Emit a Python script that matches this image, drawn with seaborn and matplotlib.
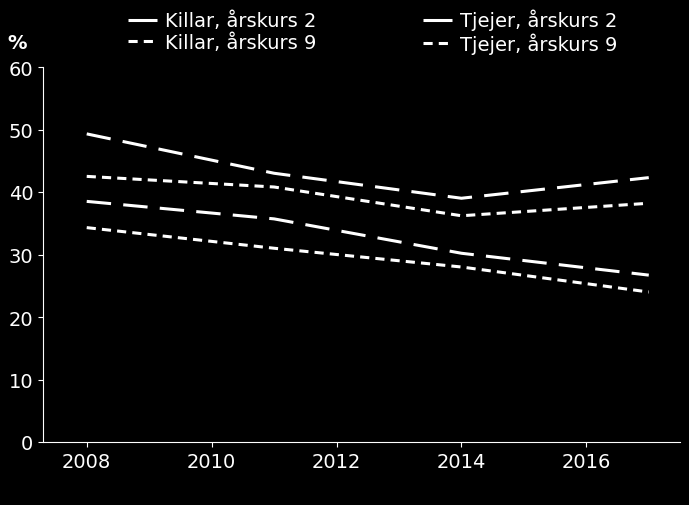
import matplotlib
matplotlib.use("Agg")
import matplotlib.pyplot as plt
import seaborn as sns
import pandas as pd
from matplotlib.lines import Line2D

years = [2008, 2011, 2014, 2017]
killar_ak2 = [38.5, 35.7, 30.2, 26.7]
tjejer_ak2 = [49.3, 43.0, 39.0, 42.3]
killar_ak9 = [34.3, 31.0, 28.0, 24.0]
tjejer_ak9 = [42.5, 40.8, 36.2, 38.2]
labels = ["Killar, årskurs 2", "Tjejer, årskurs 2", "Killar, årskurs 9", "Tjejer, årskurs 9"]
series = [killar_ak2, tjejer_ak2, killar_ak9, tjejer_ak9]
dashes = [(8, 4), (8, 4), (3, 2), (3, 2)]

rows = []
for lab, vals in zip(labels, series):
    for y, v in zip(years, vals):
        rows.append({"year": y, "value": v, "series": lab})
df = pd.DataFrame(rows)

plt.rcParams["font.family"] = "DejaVu Sans"
fig = plt.figure(figsize=(6.89, 5.06), dpi=100, facecolor="black")
ax = fig.add_axes([43/689, 1-443/506, (680-43)/689, (443-68)/506])
ax.set_facecolor("black")
sns.lineplot(data=df, x="year", y="value", hue="series", style="series",
             palette=["white"]*4, dashes=dict(zip(labels, dashes)), linewidth=2.2,
             ax=ax, legend=False)
ax.set_xlim(2007.3, 2017.5)
ax.set_ylim(0, 60)
ax.set_xticks([2008, 2010, 2012, 2014, 2016])
ax.set_yticks(range(0, 61, 10))
ax.set_xlabel("")
ax.set_ylabel("")
for s in ["top", "right"]:
    ax.spines[s].set_visible(False)
for s in ["left", "bottom"]:
    ax.spines[s].set_color("white")
ax.tick_params(colors="white", labelsize=14)
ax.text(-0.04, 1.05, "%", transform=ax.transAxes, color="white", fontsize=14, fontweight="bold", ha="center")

hd = [(20, 1), (20, 1), (3, 2), (3, 2)]
handles = [Line2D([], [], color="white", lw=2.2, dashes=d) for d in hd]
order = [0, 2, 1, 3]
leg = fig.legend([handles[i] for i in order], [labels[i] for i in order],
                 loc="upper left", bbox_to_anchor=(0.16, 1.015), ncol=2,
                 frameon=False, fontsize=14, labelcolor="white", handlelength=1.5,
                 columnspacing=5.5, handletextpad=0.4, labelspacing=0.1)
fig.savefig("out.png", dpi=100, facecolor="black")
